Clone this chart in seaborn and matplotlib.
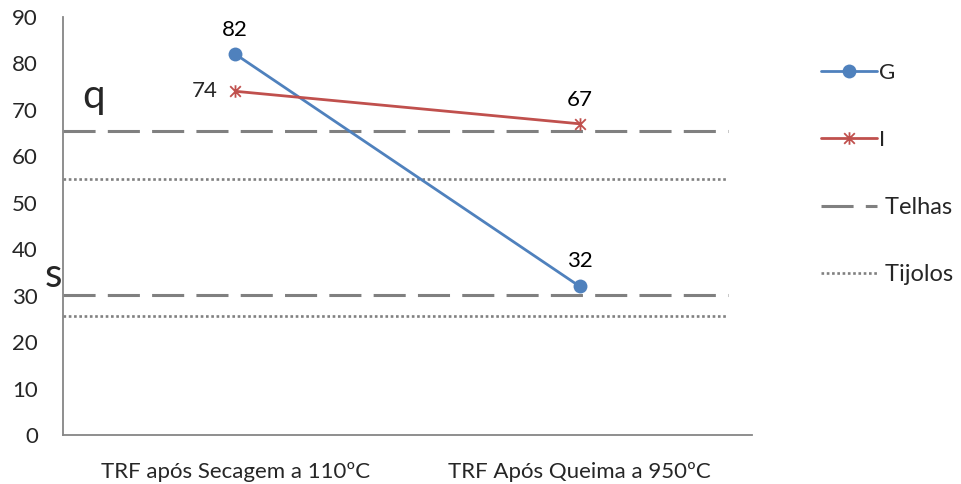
import numpy as np
import pandas as pd
import matplotlib
matplotlib.use("Agg")
import matplotlib.pyplot as plt
from matplotlib.lines import Line2D
from matplotlib.path import Path
import seaborn as sns

# --- data ---
etapas = ["TRF após Secagem a 110ºC", "TRF Após Queima a 950ºC"]
serie_g = [82, 32]
serie_i = [74, 67]
telhas_limites = [65.5, 30.2]
tijolos_limites = [55.1, 25.6]
yticks = list(range(0, 91, 10))

sns.set_theme(style="white")
plt.rcParams["font.family"] = ["Lato", "DejaVu Sans"]

AZUL = "#4F81BD"
VERMELHO = "#C0504D"
CINZA = "#808080"
EIXO = "#868686"
FS = 16

# asterisk-like marker: vertical bar crossed by an "x"
estrela = Path(
    [(0, -1), (0, 1), (-0.85, -0.85), (0.85, 0.85), (-0.85, 0.85), (0.85, -0.85)],
    [Path.MOVETO, Path.LINETO, Path.MOVETO, Path.LINETO, Path.MOVETO, Path.LINETO],
)

df = pd.DataFrame({
    "etapa": etapas * 2,
    "valor": serie_g + serie_i,
    "serie": ["G"] * 2 + ["I"] * 2,
})

fig = plt.figure(figsize=(9.62, 4.84), dpi=100)
ax = fig.add_axes([0.0655, 0.101, 0.7162, 0.864])

# reference bands (drawn first, beneath the series)
x0, x1 = -0.5, 1.43
for v in telhas_limites:
    ax.hlines(v, x0, x1, colors=CINZA, linewidth=2.2,
              linestyles=(0, (10.5, 4)), capstyle="butt", zorder=1)
for v in tijolos_limites:
    ax.hlines(v, x0, x1, colors=CINZA, linewidth=1.9,
              linestyles=(0, (1, 1)), capstyle="butt", zorder=1)

sns.lineplot(data=df[df.serie == "G"], x="etapa", y="valor", ax=ax,
             color=AZUL, linewidth=2.0, marker="o", markersize=10,
             markeredgewidth=0, sort=False, legend=False, zorder=3)
sns.lineplot(data=df[df.serie == "I"], x="etapa", y="valor", ax=ax,
             color=VERMELHO, linewidth=2.0, marker=estrela, markersize=9,
             markeredgewidth=1.3, markeredgecolor=VERMELHO, sort=False,
             legend=False, zorder=3)

# value labels
lab_kw = dict(textcoords="offset points", fontsize=FS, color="black",
              ha="center", va="bottom")
ax.annotate(str(serie_g[0]), (0, serie_g[0]), xytext=(0, 10), **lab_kw)
ax.annotate(str(serie_g[1]), (1, serie_g[1]), xytext=(0, 11), **lab_kw)
ax.annotate(str(serie_i[0]), (0, serie_i[0]), xytext=(-22, 0),
            textcoords="offset points", fontsize=FS, ha="center", va="center")
ax.annotate(str(serie_i[1]), (1, serie_i[1]), xytext=(0, 10), **lab_kw)

# band letters
ax.text(-0.445, 70.4, "q", fontsize=29, ha="left", va="baseline")
ax.text(-0.552, 31.9, "s", fontsize=29, ha="left", va="baseline", clip_on=False)

# axes styling
ax.set_xlim(-0.5, 1.5)
ax.set_ylim(0, 90)
ax.set_yticks(yticks)
ax.set_yticklabels([str(t) for t in yticks])
ax.set_xticks([-0.5, 0.5, 1.5])
ax.set_xticklabels([])
ax.set_xticks([0, 1], minor=True)
ax.set_xticklabels(etapas, minor=True)
ax.tick_params(axis="x", which="major", direction="out", length=7,
               width=1.2, color=EIXO)
ax.tick_params(axis="x", which="minor", length=0, pad=19, labelsize=FS)
ax.tick_params(axis="y", direction="out", length=7, width=1.2, color=EIXO,
               pad=11, labelsize=FS)
ax.set_xlabel("")
ax.set_ylabel("")
for s in ["top", "right"]:
    ax.spines[s].set_visible(False)
for s in ["left", "bottom"]:
    ax.spines[s].set_color(EIXO)
    ax.spines[s].set_linewidth(1.3)
ax.grid(False)

handles = [
    Line2D([], [], color=AZUL, linewidth=2.0, marker="o", markersize=10,
           markeredgewidth=0),
    Line2D([], [], color=VERMELHO, linewidth=2.0, marker=estrela,
           markersize=9, markeredgewidth=1.3, markeredgecolor=VERMELHO),
    Line2D([], [], color=CINZA, linewidth=2.2, linestyle=(0, (10.5, 4))),
    Line2D([], [], color=CINZA, linewidth=1.9, linestyle=(0, (1, 1))),
]
leg = fig.legend(handles, ["G", "I", " Telhas", " Tijolos"],
                 loc="center left", bbox_to_anchor=(0.833, 0.64),
                 frameon=False, fontsize=FS, handlelength=2.5,
                 handletextpad=0.1, labelspacing=2.1)
for t in leg.get_texts()[2:]:
    t.set_fontsize(17)

fig.savefig("out.png", dpi=100)
